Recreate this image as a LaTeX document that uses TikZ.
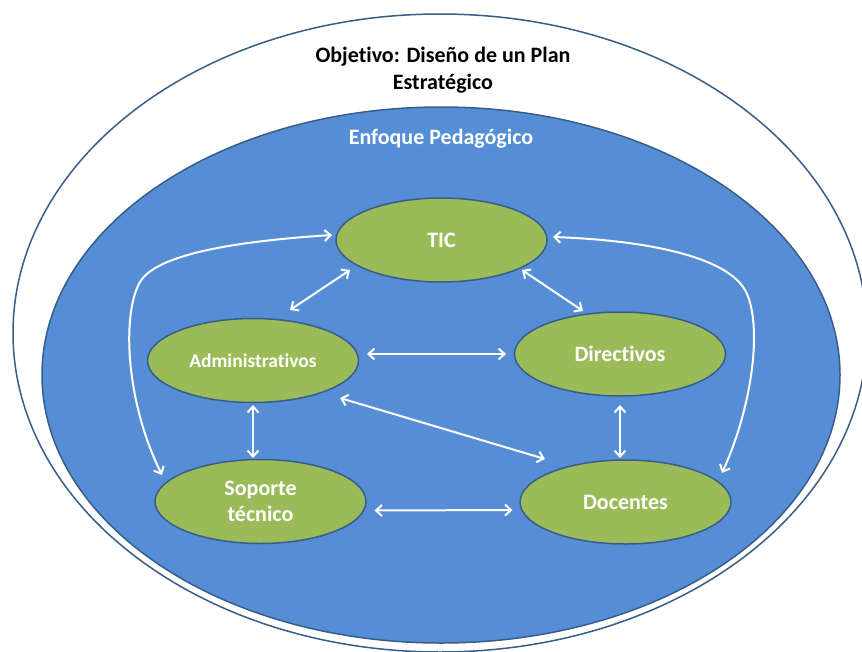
\documentclass[tikz,border=0pt]{standalone}
\usepackage{fontspec}
\setmainfont{Carlito}[Ligatures=NoCommon]
\usetikzlibrary{arrows.meta,calc,shapes.geometric}
\definecolor{outl}{HTML}{385D8A}
\definecolor{bluef}{HTML}{558ED5}
\definecolor{greenf}{HTML}{9BBB59}
\begin{document}
\begin{tikzpicture}[x=1pt,y=-1pt,
  ent/.style={ellipse, draw=outl, line width=1.5pt, fill=greenf,
    minimum width=211pt, minimum height=84pt, inner sep=0pt,
    text=white, font=\bfseries\fontsize{22}{26}\selectfont, align=center},
  arr/.style={draw=white, line width=2pt,
    {Straight Barb[length=6pt,width=11pt]}-{Straight Barb[length=6pt,width=11pt]}},
  lbl/.style={font=\bfseries\fontsize{22}{27}\selectfont, align=center, inner sep=0pt}]
\useasboundingbox (0,0) rectangle (862,651);
\clip (0,0) rectangle (862,651);
\fill[white] (0,0) rectangle (862,651);
% outer and inner ellipses
\draw[outl, line width=1.5pt, fill=white] (440,333) ellipse [x radius=427pt, y radius=319pt];
\draw[outl, line width=1.5pt, fill=bluef] (441,375) ellipse [x radius=399pt, y radius=268pt];
% labels
\node[lbl, text=black] (title) at (443,70) {Objetivo: Diseño de un Plan\\Estratégico};
\node[lbl, text=white] (enf) at (441,139) {Enfoque Pedagógico};
% entities
\node[ent] (tic) at (441.5,240) {TIC};
\node[ent, font=\bfseries\fontsize{19.5}{24}\selectfont] (adm) at (253,360.5) {Administrativos};
\node[ent] (dir) at (620,354) {Directivos};
\node[ent] (sop) at (260.5,501.5) {Soporte\\técnico};
\node[ent] (doc) at (625.5,502) {Docentes};
% straight connectors
\draw[arr] ($(adm.center)+(37,-50.5)$) -- ($(tic.center)+(-91.5,30)$);
\draw[arr] ($(tic.center)+(80.5,30)$) -- ($(dir.center)+(-37,-43)$);
\draw[arr] ($(adm.center)+(114,-6.5)$) -- ($(dir.center)+(-114,0)$);
\draw[arr] ($(adm.center)+(87,37.5)$) -- ($(doc.center)+(-80.5,-43)$);
\draw[arr] ($(adm.center)+(0,44.5)$) -- ($(sop.center)+(-7.5,-43.5)$);
\draw[arr] ($(dir.center)+(0,51)$) -- ($(doc.center)+(-5.5,-44)$);
\draw[arr] ($(sop.center)+(114,9)$) -- ($(doc.center)+(-113,8)$);
% curved connectors
\draw[arr] ($(sop.center)+(-98.5,-26.5)$) .. controls (125,400) and (122,313) .. (140,282)
   .. controls (158,251) and (255,240) .. ($(tic.center)+(-109.5,-5)$);
\draw[arr] ($(tic.center)+(111.5,-3)$) .. controls (640,240) and (725,255) .. (745,290)
   .. controls (762,320) and (755,400) .. ($(doc.center)+(96.5,-29)$);
\end{tikzpicture}
\end{document}
